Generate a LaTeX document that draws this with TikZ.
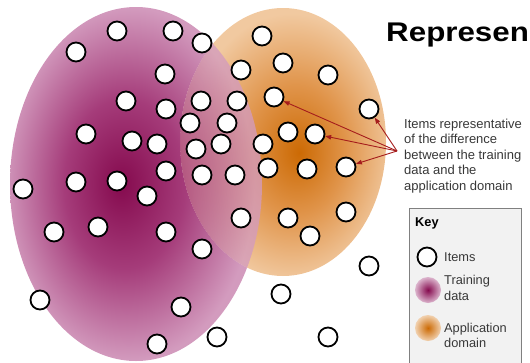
\documentclass[tikz,border=0pt]{standalone}
\usepackage{fontspec}
\setmainfont{Liberation Sans}
\usetikzlibrary{arrows.meta}
\definecolor{pdark}{HTML}{850A4E}
\definecolor{pmid}{HTML}{A53C7A}
\definecolor{plight}{HTML}{D39BBE}
\definecolor{odark}{HTML}{CC6A04}
\definecolor{omid}{HTML}{E0944A}
\definecolor{olight}{HTML}{F1C9A0}
\definecolor{arrowred}{HTML}{A51C1C}
\definecolor{keybg}{HTML}{F2F2F2}
\definecolor{keyline}{HTML}{808080}
\definecolor{txt}{HTML}{383838}
\pgfdeclareradialshading{purpshade}{\pgfpoint{-3bp}{0bp}}{color(0bp)=(pdark); color(12bp)=(pmid); color(25bp)=(plight); color(50bp)=(plight)}
\pgfdeclareradialshading{orshade}{\pgfpoint{4bp}{-2bp}}{color(0bp)=(odark); color(12bp)=(omid); color(25bp)=(olight); color(50bp)=(olight)}
\tikzset{
  item/.style={circle, draw=black, line width=1.8pt, fill=white, minimum size=19pt, inner sep=0pt},
  arrowln/.style={draw=arrowred, line width=0.9pt, -{Triangle[length=6pt,width=4.5pt]}},
  labeltext/.style={font=\fontsize{13}{15.6}\selectfont, text=txt, align=left, inner sep=0pt},
  keytext/.style={font=\fontsize{12.8}{15.5}\selectfont, text=txt, align=left, inner sep=0pt, anchor=west}
}
\begin{document}
\begin{tikzpicture}[x=1pt,y=-1pt]
\useasboundingbox (0,0) rectangle (530,362);
% training data (purple) and application domain (orange)
\shade[shading=orshade] (283,142) ellipse [x radius=103, y radius=134];
\begin{scope}[even odd rule]
  \clip (-5,-5) rectangle (540,370) (283,142) ellipse [x radius=103, y radius=134];
  \shade[shading=purpshade] (136,184) ellipse [x radius=126, y radius=177];
\end{scope}
\begin{scope}
  \clip (283,142) ellipse [x radius=103, y radius=134];
  \shade[shading=purpshade, fill opacity=0.78] (136,184) ellipse [x radius=126, y radius=177];
\end{scope}
% items
\foreach \x/\y [count=\i] in {76/52, 117/31, 173/31, 202/43, 262/36, 165/74, 241/70, 283/63, 328/75,
  126/101, 166/109, 201/101, 237/101, 274/97, 369/109, 190/123, 227/123, 86/134, 132/141, 157/144,
  196/149, 221/144, 263/144, 288/132, 315/134, 23/189, 76/182, 117/181, 147/196, 166/171,
  202/175, 235/175, 268/168, 307/169, 346/167, 54/232, 98/227, 166/232, 241/218, 202/249,
  288/218, 310/236, 346/212, 369/266, 281/294, 40/300, 181/307, 157/344, 217/337, 328/337}
  \node[item] (c\i) at (\x,\y) {};
% title
\node[anchor=base west, inner sep=0pt, xscale=1.16, font=\bfseries\fontsize{27}{30}\selectfont] (title) at (386,41) {Represen};
% annotation
\coordinate (src) at (397,151);
\draw[arrowln] (src) -- (c14);
\draw[arrowln] (src) -- (c25);
\draw[arrowln] (src) -- (c35);
\draw[arrowln] (src) -- (c15);
\node[labeltext, anchor=north west] (lab) at (404,118.5) {Items representative\\of the difference\\between the training\\data and the\\application domain};
% key
\filldraw[fill=keybg, draw=keyline, line width=0.8pt] (409,362.5) -- (409,208) -- (521,208) -- (521,362.5);
\node[keytext, font=\bfseries\fontsize{12.8}{15.5}\selectfont, text=black] (keyt) at (415,223) {Key};
\node[item] (kitem) at (427,257) {};
\node[keytext] (kitemt) at (444,257) {Items};
\shade[inner color=pdark, outer color=plight!70!keybg] (428,290) circle (13);
\node[keytext] (ktrain) at (444,288) {Training\\data};
\shade[inner color=odark, outer color=olight!80!keybg] (428,328) circle (13);
\node[keytext] (kapp) at (444,335.5) {Application\\domain};
\end{tikzpicture}
\end{document}
